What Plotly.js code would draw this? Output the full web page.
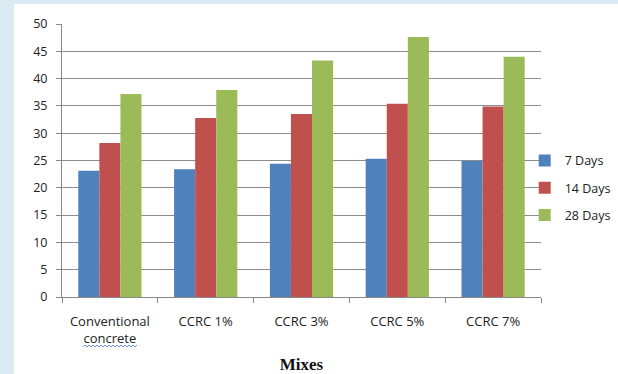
<!DOCTYPE html>
<html><head><meta charset="utf-8">
<script src="https://cdn.plot.ly/plotly-3.0.1.min.js"></script>
<style>html,body{margin:0;padding:0;background:#fff;}#chart{width:618px;height:374px;}</style>
</head><body><div id="chart"></div>
<script>
const categories = ["Conventional<br>concrete", "CCRC 1%", "CCRC 3%", "CCRC 5%", "CCRC 7%"];
const days7 = [23.1, 23.4, 24.4, 25.3, 24.9];
const days14 = [28.2, 32.8, 33.5, 35.4, 34.9];
const days28 = [37.2, 37.9, 43.3, 47.6, 44.0];
const seriesNames = ["7 Days", "14 Days", "28 Days"];
const colors = ["#4F81BD", "#C0504D", "#9BBB59"];
const yTicks = [0, 5, 10, 15, 20, 25, 30, 35, 40, 45, 50];

const data = [days7, days14, days28].map((v, i) => ({
  type: "bar", x: categories, y: v, name: seriesNames[i],
  legendgroup: "g" + i,
  marker: {color: colors[i]}
}));

// decorative spell-check squiggle under "concrete" (pixel-based, converted to paper units)
const PW = 479, PH = 273, L = 62, T = 24;
function px2x(p) { return (p - L) / PW; }
function py2y(p) { return (T + PH - p) / PH; }
let sq = "";
for (let p = 83, k = 0; p <= 137; p += 2, k++) {
  sq += (k === 0 ? "M " : " L ") + px2x(p).toFixed(4) + "," + py2y(k % 2 ? 345 : 347).toFixed(4);
}

const layout = {
  width: 618, height: 374,
  margin: {l: 62, r: 77, t: 24, b: 77, autoexpand: false},
  paper_bgcolor: "#dceaf4", plot_bgcolor: "#ffffff",
  font: {family: "Open Sans, Arial, sans-serif", size: 12, color: "#222"},
  barmode: "group", bargap: 0.34, bargroupgap: 0,
  showlegend: true,
  legend: {x: 0.966, y: 0.40, xanchor: "left", yanchor: "middle", font: {size: 12.5, color: "#222"},
           bgcolor: "rgba(0,0,0,0)", tracegroupgap: 8, itemwidth: 30},
  xaxis: {
    type: "category", tickson: "boundaries", ticks: "outside", ticklen: 5, tickcolor: "#888",
    showline: true, linecolor: "#888", linewidth: 1, showgrid: false,
    tickfont: {size: 13, color: "#222"}, ticklabelstandoff: 12,
    title: {text: "<b>Mixes</b>", font: {family: "Liberation Serif, Times New Roman, serif", size: 17, color: "#111"}, standoff: 16}
  },
  yaxis: {
    range: [0, 50], tickvals: yTicks, ticks: "outside", ticklen: 5, tickcolor: "#888",
    showline: true, linecolor: "#888", linewidth: 1,
    showgrid: true, gridcolor: "#8c8c8c", gridwidth: 1, zeroline: false,
    tickfont: {size: 12.5, color: "#222"}, ticklabelstandoff: 6
  },
  shapes: [
    {type: "rect", xref: "paper", yref: "paper", x0: -0.1, x1: 1.2, y0: -0.3, y1: 1.073,
     fillcolor: "#ffffff", line: {width: 0}, layer: "below"},
    {type: "path", xref: "paper", yref: "paper", path: sq, line: {color: "#6a8fe0", width: 1}, layer: "above"}
  ]
};
Plotly.newPlot("chart", data, layout, {displayModeBar: false});
</script></body></html>
